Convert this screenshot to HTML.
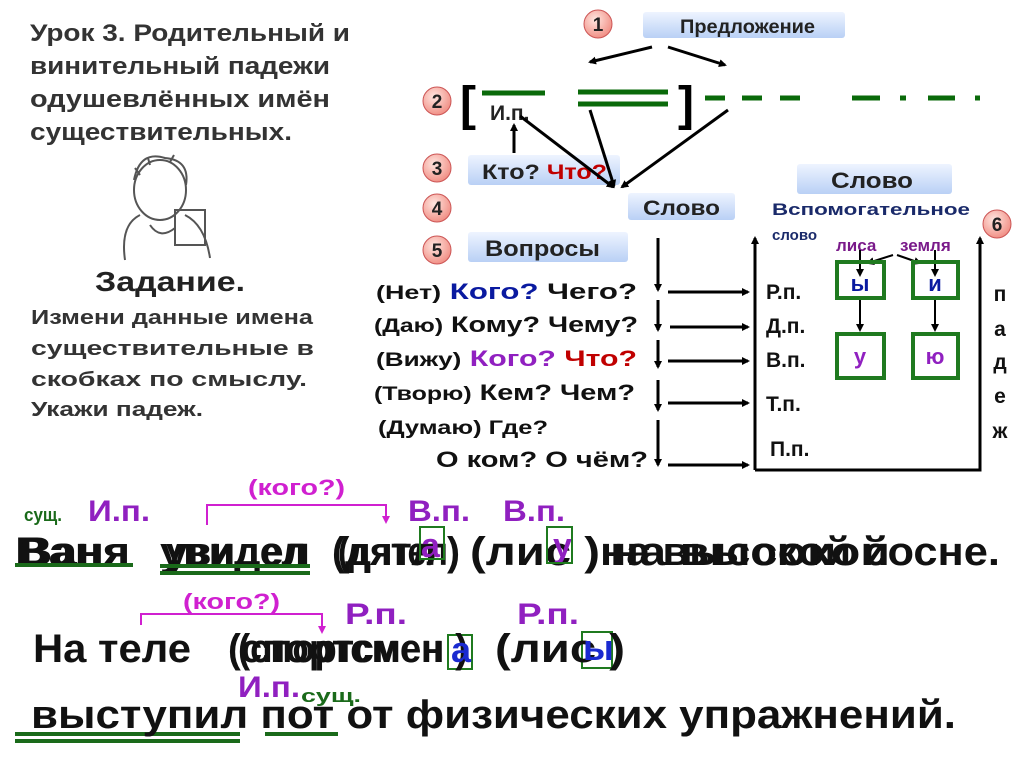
<!DOCTYPE html>
<html><head><meta charset="utf-8"><style>
html,body{margin:0;padding:0;background:#fff}
svg{display:block}
text{font-family:"Liberation Sans","Noto Sans CJK SC",sans-serif;font-weight:bold}
</style></head><body>
<svg width="1024" height="767" viewBox="0 0 1024 767" xmlns="http://www.w3.org/2000/svg">
<defs>
<linearGradient id="bx" x1="0" y1="0" x2="0" y2="1"><stop offset="0" stop-color="#eef4ff"/><stop offset="1" stop-color="#b9d0f5"/></linearGradient>
<radialGradient id="ci" cx="0.4" cy="0.35" r="0.7"><stop offset="0" stop-color="#ffe6e0"/><stop offset="1" stop-color="#f08a80"/></radialGradient>
<marker id="ar" markerWidth="8" markerHeight="8" refX="6" refY="4" orient="auto" markerUnits="userSpaceOnUse"><path d="M0,0 L8,4 L0,8 Z" fill="#000"/></marker>
<marker id="arp" markerWidth="8" markerHeight="8" refX="6" refY="4" orient="auto" markerUnits="userSpaceOnUse"><path d="M0,0 L8,4 L0,8 Z" fill="#d020d0"/></marker>
</defs>

<g font-size="24" fill="#333">
<text x="30" y="41" textLength="320" lengthAdjust="spacingAndGlyphs">Урок 3. Родительный и</text>
<text x="30" y="74" textLength="300" lengthAdjust="spacingAndGlyphs">винительный падежи</text>
<text x="30" y="107" textLength="300" lengthAdjust="spacingAndGlyphs">одушевлённых  имён</text>
<text x="30" y="140" textLength="262" lengthAdjust="spacingAndGlyphs">существительных.</text>
</g>
<g fill="none" stroke="#555" stroke-width="2">
<ellipse cx="160" cy="190" rx="26" ry="30"/>
<path d="M134,180 Q140,150 165,158 Q190,160 186,185"/>
<path d="M140,175 L135,168 M150,165 L148,158 M170,162 L174,155"/>
<path d="M125,260 Q120,225 140,215 M185,215 Q205,225 210,258"/>
<rect x="175" y="210" width="30" height="35"/>
<path d="M150,225 Q160,240 175,228"/>
</g>
<text x="95" y="291" font-size="28" fill="#222" textLength="150" lengthAdjust="spacingAndGlyphs">Задание.</text>
<g font-size="20" fill="#333">
<text x="31" y="324" textLength="282" lengthAdjust="spacingAndGlyphs">Измени данные имена</text>
<text x="31" y="355" textLength="283" lengthAdjust="spacingAndGlyphs">существительные  в</text>
<text x="31" y="386" textLength="276" lengthAdjust="spacingAndGlyphs">скобках  по  смыслу.</text>
<text x="31" y="416" textLength="172" lengthAdjust="spacingAndGlyphs">Укажи  падеж.</text>
</g>

<g font-size="19" fill="#222" text-anchor="middle">
<circle cx="598" cy="24" r="14" fill="url(#ci)" stroke="#c55" /><text x="598" y="31">1</text>
<circle cx="437" cy="101" r="14" fill="url(#ci)" stroke="#c55"/><text x="437" y="108">2</text>
<circle cx="437" cy="168" r="14" fill="url(#ci)" stroke="#c55"/><text x="437" y="175">3</text>
<circle cx="437" cy="208" r="14" fill="url(#ci)" stroke="#c55"/><text x="437" y="215">4</text>
<circle cx="437" cy="250" r="14" fill="url(#ci)" stroke="#c55"/><text x="437" y="257">5</text>
<circle cx="997" cy="224" r="14" fill="url(#ci)" stroke="#c55"/><text x="997" y="231">6</text>
</g>
<rect x="643" y="12" width="202" height="26" rx="3" fill="url(#bx)"/>
<text x="680" y="33" font-size="19" fill="#222" textLength="135" lengthAdjust="spacingAndGlyphs">Предложение</text>
<rect x="468" y="155" width="152" height="30" rx="3" fill="url(#bx)"/>
<text x="482" y="179" font-size="21" fill="#222" textLength="125" lengthAdjust="spacingAndGlyphs">Кто? <tspan fill="#c00000">Что?</tspan></text>
<rect x="628" y="193" width="107" height="27" rx="3" fill="url(#bx)"/>
<text x="643" y="215" font-size="21" fill="#222" textLength="77" lengthAdjust="spacingAndGlyphs">Слово</text>
<rect x="468" y="232" width="160" height="30" rx="3" fill="url(#bx)"/>
<text x="485" y="256" font-size="22" fill="#222" textLength="115" lengthAdjust="spacingAndGlyphs">Вопросы</text>
<rect x="797" y="164" width="155" height="30" rx="3" fill="url(#bx)"/>
<text x="831" y="188" font-size="22" fill="#222" textLength="82" lengthAdjust="spacingAndGlyphs">Слово</text>

<text x="460" y="120" font-size="48" fill="#000">[</text>
<text x="678" y="120" font-size="48" fill="#000">]</text>
<text x="490" y="120" font-size="21" fill="#222">И.п.</text>
<g stroke="#0a6a0a" stroke-width="5">
<line x1="482" y1="93" x2="545" y2="93"/>
<line x1="578" y1="92" x2="668" y2="92"/><line x1="578" y1="104" x2="668" y2="104"/>
<line x1="705" y1="98" x2="725" y2="98"/><line x1="742" y1="98" x2="762" y2="98"/><line x1="780" y1="98" x2="800" y2="98"/>
<line x1="852" y1="98" x2="880" y2="98"/><line x1="900" y1="98" x2="906" y2="98"/><line x1="928" y1="98" x2="955" y2="98"/><line x1="975" y1="98" x2="980" y2="98"/>
</g>
<g stroke="#000" stroke-width="3" marker-end="url(#ar)" fill="none">
<line x1="652" y1="47" x2="590" y2="62"/>
<line x1="668" y1="47" x2="725" y2="65"/>
<line x1="514" y1="153" x2="514" y2="125"/>
<line x1="520" y1="116" x2="613" y2="187"/>
<line x1="590" y1="110" x2="614" y2="186"/>
<line x1="728" y1="110" x2="622" y2="187"/>
</g>
<g stroke="#000" stroke-width="2" marker-end="url(#ar)">
<line x1="893" y1="255" x2="868" y2="263"/>
<line x1="897" y1="255" x2="920" y2="263"/>
</g>
<text x="772" y="215" font-size="17" fill="#1a2a6a" textLength="198" lengthAdjust="spacingAndGlyphs">Вспомогательное</text>
<text x="772" y="240" font-size="15" fill="#1a2a6a">слово</text>
<text x="836" y="251" font-size="17" fill="#7a1a8a">лиса</text>
<text x="900" y="251" font-size="17" fill="#7a1a8a">земля</text>

<g font-size="22" fill="#111">
<text x="376" y="299" textLength="261" lengthAdjust="spacingAndGlyphs"><tspan font-size="19">(Нет)</tspan>  <tspan fill="#0a1aa0">Кого?</tspan> Чего?</text>
<text x="374" y="332" textLength="264" lengthAdjust="spacingAndGlyphs"><tspan font-size="19">(Даю)</tspan> Кому? Чему?</text>
<text x="376" y="366" textLength="261" lengthAdjust="spacingAndGlyphs"><tspan font-size="19">(Вижу)</tspan>  <tspan fill="#9020c0">Кого?</tspan> <tspan fill="#c00000">Что?</tspan></text>
<text x="374" y="400" textLength="261" lengthAdjust="spacingAndGlyphs"><tspan font-size="19">(Творю)</tspan> Кем? Чем?</text>
<text x="378" y="434" font-size="19" textLength="170" lengthAdjust="spacingAndGlyphs">(Думаю) Где?</text>
<text x="436" y="467" textLength="212" lengthAdjust="spacingAndGlyphs">О ком?  О чём?</text>
</g>
<g stroke="#000" stroke-width="3" fill="none" marker-end="url(#ar)">
<line x1="658" y1="238" x2="658" y2="290"/>
<line x1="658" y1="300" x2="658" y2="330"/>
<line x1="658" y1="340" x2="658" y2="367"/>
<line x1="658" y1="380" x2="658" y2="410"/>
<line x1="658" y1="420" x2="658" y2="465"/>
<line x1="668" y1="292" x2="748" y2="292"/>
<line x1="670" y1="327" x2="748" y2="327"/>
<line x1="668" y1="361" x2="748" y2="361"/>
<line x1="668" y1="403" x2="748" y2="403"/>
<line x1="668" y1="465" x2="748" y2="465"/>
<polyline points="755,470 755,238"/>
<polyline points="755,470 980,470 980,238"/>
</g>
<g stroke="#000" stroke-width="2" marker-end="url(#ar)">
<line x1="860" y1="250" x2="860" y2="275"/><line x1="935" y1="250" x2="935" y2="275"/>
<line x1="860" y1="298" x2="860" y2="330"/><line x1="935" y1="298" x2="935" y2="330"/>
</g>
<g font-size="21" fill="#111">
<text x="766" y="299">Р.п.</text><text x="766" y="333">Д.п.</text><text x="766" y="367">В.п.</text><text x="766" y="411">Т.п.</text><text x="770" y="456">П.п.</text>
</g>
<g fill="none" stroke="#1f7a1f" stroke-width="4">
<rect x="837" y="262" width="47" height="36"/><rect x="913" y="262" width="45" height="36"/>
<rect x="837" y="334" width="47" height="44"/><rect x="913" y="334" width="45" height="44"/>
</g>
<text x="860" y="291" font-size="22" fill="#0a1aa0" text-anchor="middle">ы</text>
<text x="935" y="291" font-size="22" fill="#0a1aa0" text-anchor="middle">и</text>
<text x="860" y="364" font-size="22" fill="#9020c0" text-anchor="middle">у</text>
<text x="935" y="364" font-size="22" fill="#9020c0" text-anchor="middle">ю</text>
<g font-size="21" fill="#111" text-anchor="middle">
<text x="1000" y="301">п</text><text x="1000" y="336">а</text><text x="1000" y="369">д</text><text x="1000" y="403">е</text><text x="1000" y="438">ж</text>
</g>

<text x="248" y="495" font-size="22" fill="#d020d0" textLength="97" lengthAdjust="spacingAndGlyphs">(кого?)</text>
<polyline points="207,525 207,505 386,505 386,522" fill="none" stroke="#d020d0" stroke-width="2" marker-end="url(#arp)"/>
<text x="24" y="521" font-size="18" fill="#1a6a1a" textLength="38" lengthAdjust="spacingAndGlyphs">сущ.</text>
<text x="88" y="521" font-size="30" fill="#9020c0" textLength="62" lengthAdjust="spacingAndGlyphs">И.п.</text>
<text x="408" y="521" font-size="30" fill="#9020c0" textLength="62" lengthAdjust="spacingAndGlyphs">В.п.</text>
<text x="503" y="521" font-size="30" fill="#9020c0" textLength="62" lengthAdjust="spacingAndGlyphs">В.п.</text>
<g font-size="40" fill="#111">
<text x="15" y="565" textLength="115" lengthAdjust="spacingAndGlyphs">Ваня</text>
<text x="20" y="565" textLength="110" lengthAdjust="spacingAndGlyphs">Ваня</text>
<text x="160" y="565" textLength="150" lengthAdjust="spacingAndGlyphs">увидел</text>
<text x="166" y="565" textLength="140" lengthAdjust="spacingAndGlyphs">увидел</text>
<text x="332" y="565" textLength="128" lengthAdjust="spacingAndGlyphs">(дятл )</text>
<text x="338" y="565" textLength="110" lengthAdjust="spacingAndGlyphs">(дятел</text>
<text x="470" y="565" textLength="130" lengthAdjust="spacingAndGlyphs">(лис )</text>
<text x="600" y="565" textLength="400" lengthAdjust="spacingAndGlyphs">на высокой сосне.</text>
<text x="610" y="565" textLength="280" lengthAdjust="spacingAndGlyphs">на высокой</text>
</g>
<text x="421" y="557" font-size="34" fill="#9020c0">а</text>
<text x="553" y="557" font-size="34" fill="#9020c0">у</text>
<g fill="none" stroke="#1f7a1f" stroke-width="2">
<rect x="420" y="527" width="24" height="32"/><rect x="547" y="527" width="25" height="36"/>
<rect x="448" y="635" width="24" height="34"/><rect x="582" y="632" width="30" height="36"/>
</g>
<g stroke="#1a6a1a" stroke-width="4">
<line x1="15" y1="565" x2="133" y2="565"/>
<line x1="160" y1="566" x2="310" y2="566"/><line x1="160" y1="573" x2="310" y2="573"/>
<line x1="15" y1="734" x2="240" y2="734"/><line x1="15" y1="741" x2="240" y2="741"/>
<line x1="265" y1="734" x2="338" y2="734"/>
</g>

<text x="183" y="609" font-size="22" fill="#d020d0" textLength="97" lengthAdjust="spacingAndGlyphs">(кого?)</text>
<polyline points="141,625 141,614 322,614 322,632" fill="none" stroke="#d020d0" stroke-width="2" marker-end="url(#arp)"/>
<text x="345" y="624" font-size="30" fill="#9020c0" textLength="62" lengthAdjust="spacingAndGlyphs">Р.п.</text>
<text x="517" y="624" font-size="30" fill="#9020c0" textLength="62" lengthAdjust="spacingAndGlyphs">Р.п.</text>
<g font-size="40" fill="#111">
<text x="33" y="662" textLength="158" lengthAdjust="spacingAndGlyphs">На теле</text>
<text x="228" y="662" textLength="240" lengthAdjust="spacingAndGlyphs">(спортсмен )</text>
<text x="238" y="662" textLength="205" lengthAdjust="spacingAndGlyphs">(спортсмен</text>
<text x="495" y="662" textLength="130" lengthAdjust="spacingAndGlyphs">(лис  )</text>
</g>
<text x="451" y="662" font-size="36" fill="#1a2ad0">а</text>
<text x="583" y="660" font-size="36" fill="#1a2ad0">ы</text>
<text x="238" y="697" font-size="30" fill="#9020c0" textLength="62" lengthAdjust="spacingAndGlyphs">И.п.</text>
<text x="301" y="702" font-size="18" fill="#1a6a1a" textLength="60" lengthAdjust="spacingAndGlyphs">сущ.</text>
<text x="31" y="728" font-size="40" fill="#111" textLength="925" lengthAdjust="spacingAndGlyphs">выступил  пот  от  физических  упражнений.</text>
</svg>
</body></html>
